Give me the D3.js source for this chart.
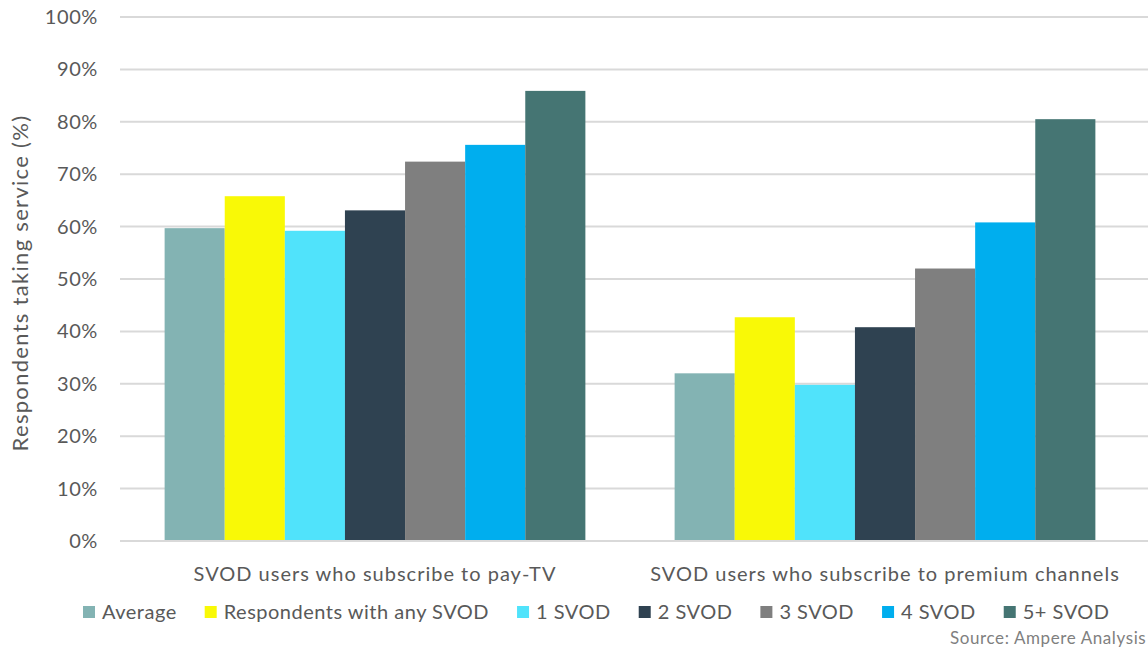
<!DOCTYPE html>
<html>
<head>
<meta charset="utf-8">
<script src="https://cdn.jsdelivr.net/npm/d3@7"></script>
<style>
  html, body { margin: 0; padding: 0; background: #fff; overflow: hidden; }
  text { font-family: Lato, "Open Sans", sans-serif; fill: #595959; }
</style>
</head>
<body>
<script>
const categories = ["SVOD users who subscribe to pay-TV", "SVOD users who subscribe to premium channels"]
const seriesNames = ["Average", "Respondents with any SVOD", "1 SVOD", "2 SVOD", "3 SVOD", "4 SVOD", "5+ SVOD"]
const seriesColors = ["#83B3B3", "#F9F906", "#50E3FB", "#2F4251", "#7F7F7F", "#00AEEE", "#457573"]
const payTv = [59.7, 65.8, 59.2, 63.1, 72.4, 75.6, 85.9]
const premium = [32.0, 42.7, 29.8, 40.8, 52.0, 60.8, 80.5]
const yTicks = [0, 10, 20, 30, 40, 50, 60, 70, 80, 90, 100]

const width = 1148
const height = 652
const margin = { top: 17, right: 8, bottom: 111, left: 120 }

const values = [payTv, premium]
const data = categories.map((c, i) => ({ category: c, values: values[i] }))

const svg = d3.select("body").append("svg")
  .attr("width", width)
  .attr("height", height)

const x0 = d3.scaleBand()
  .domain(categories)
  .range([margin.left, width - margin.right])
  .paddingInner(0.175)
  .paddingOuter(0.0875)

const x1 = d3.scaleBand()
  .domain(seriesNames)
  .range([0, x0.bandwidth()])

const y = d3.scaleLinear()
  .domain([0, 100])
  .range([height - margin.bottom, margin.top])

const color = d3.scaleOrdinal(seriesNames, seriesColors)

// gridlines
svg.append("g")
  .selectAll("line")
  .data(yTicks)
  .join("line")
  .attr("x1", margin.left)
  .attr("x2", width)
  .attr("y1", d => y(d))
  .attr("y2", d => y(d))
  .attr("stroke", "#d9d9d9")
  .attr("stroke-width", 2)

// y tick labels
svg.append("g")
  .selectAll("text")
  .data(yTicks)
  .join("text")
  .attr("x", 98)
  .attr("y", d => y(d))
  .attr("dy", "0.35em")
  .attr("text-anchor", "end")
  .attr("font-size", 20)
  .attr("letter-spacing", 0.6)
  .text(d => d + "%")

svg.append("text")
  .attr("transform", `translate(28,${y(50) + 4}) rotate(-90)`)
  .attr("text-anchor", "middle")
  .attr("font-size", 22)
  .attr("letter-spacing", 1.3)
  .text("Respondents taking service (%)")

// bars
const group = svg.append("g")
  .selectAll("g")
  .data(data)
  .join("g")
  .attr("transform", d => `translate(${x0(d.category)},0)`)

group.selectAll("rect")
  .data(d => d.values.map((v, i) => ({ key: seriesNames[i], value: v })))
  .join("rect")
  .attr("x", d => x1(d.key))
  .attr("width", x1.bandwidth())
  .attr("y", d => y(d.value))
  .attr("height", d => y(0) - y(d.value))
  .attr("fill", d => color(d.key))

// baseline
svg.append("line")
  .attr("x1", margin.left)
  .attr("x2", width)
  .attr("y1", y(0))
  .attr("y2", y(0))
  .attr("stroke", "#d9d9d9")
  .attr("stroke-width", 2)

// category labels
svg.append("g")
  .selectAll("text")
  .data(categories)
  .join("text")
  .attr("x", d => x0(d) + x0.bandwidth() / 2)
  .attr("y", 581)
  .attr("text-anchor", "middle")
  .attr("font-size", 20)
  .attr("letter-spacing", 1.0)
  .text(d => d)

// legend
const legend = svg.append("g")
let lx = 83
seriesNames.forEach(name => {
  const item = legend.append("g").attr("transform", `translate(${lx},612)`)
  item.append("rect")
    .attr("x", 0)
    .attr("y", -6)
    .attr("width", 12)
    .attr("height", 12)
    .attr("fill", color(name))
  const t = item.append("text")
    .attr("x", 19)
    .attr("dy", "0.35em")
    .attr("font-size", 20)
    .attr("letter-spacing", 0.5)
    .text(name)
  lx += 19 + t.node().getComputedTextLength() + 28
})

svg.append("text")
  .attr("x", 950)
  .attr("y", 644)
  .attr("font-size", 17)
  .attr("letter-spacing", 0.6)
  .style("fill", "#7f7f7f")
  .text("Source:  Ampere Analysis")
</script>
</body>
</html>
